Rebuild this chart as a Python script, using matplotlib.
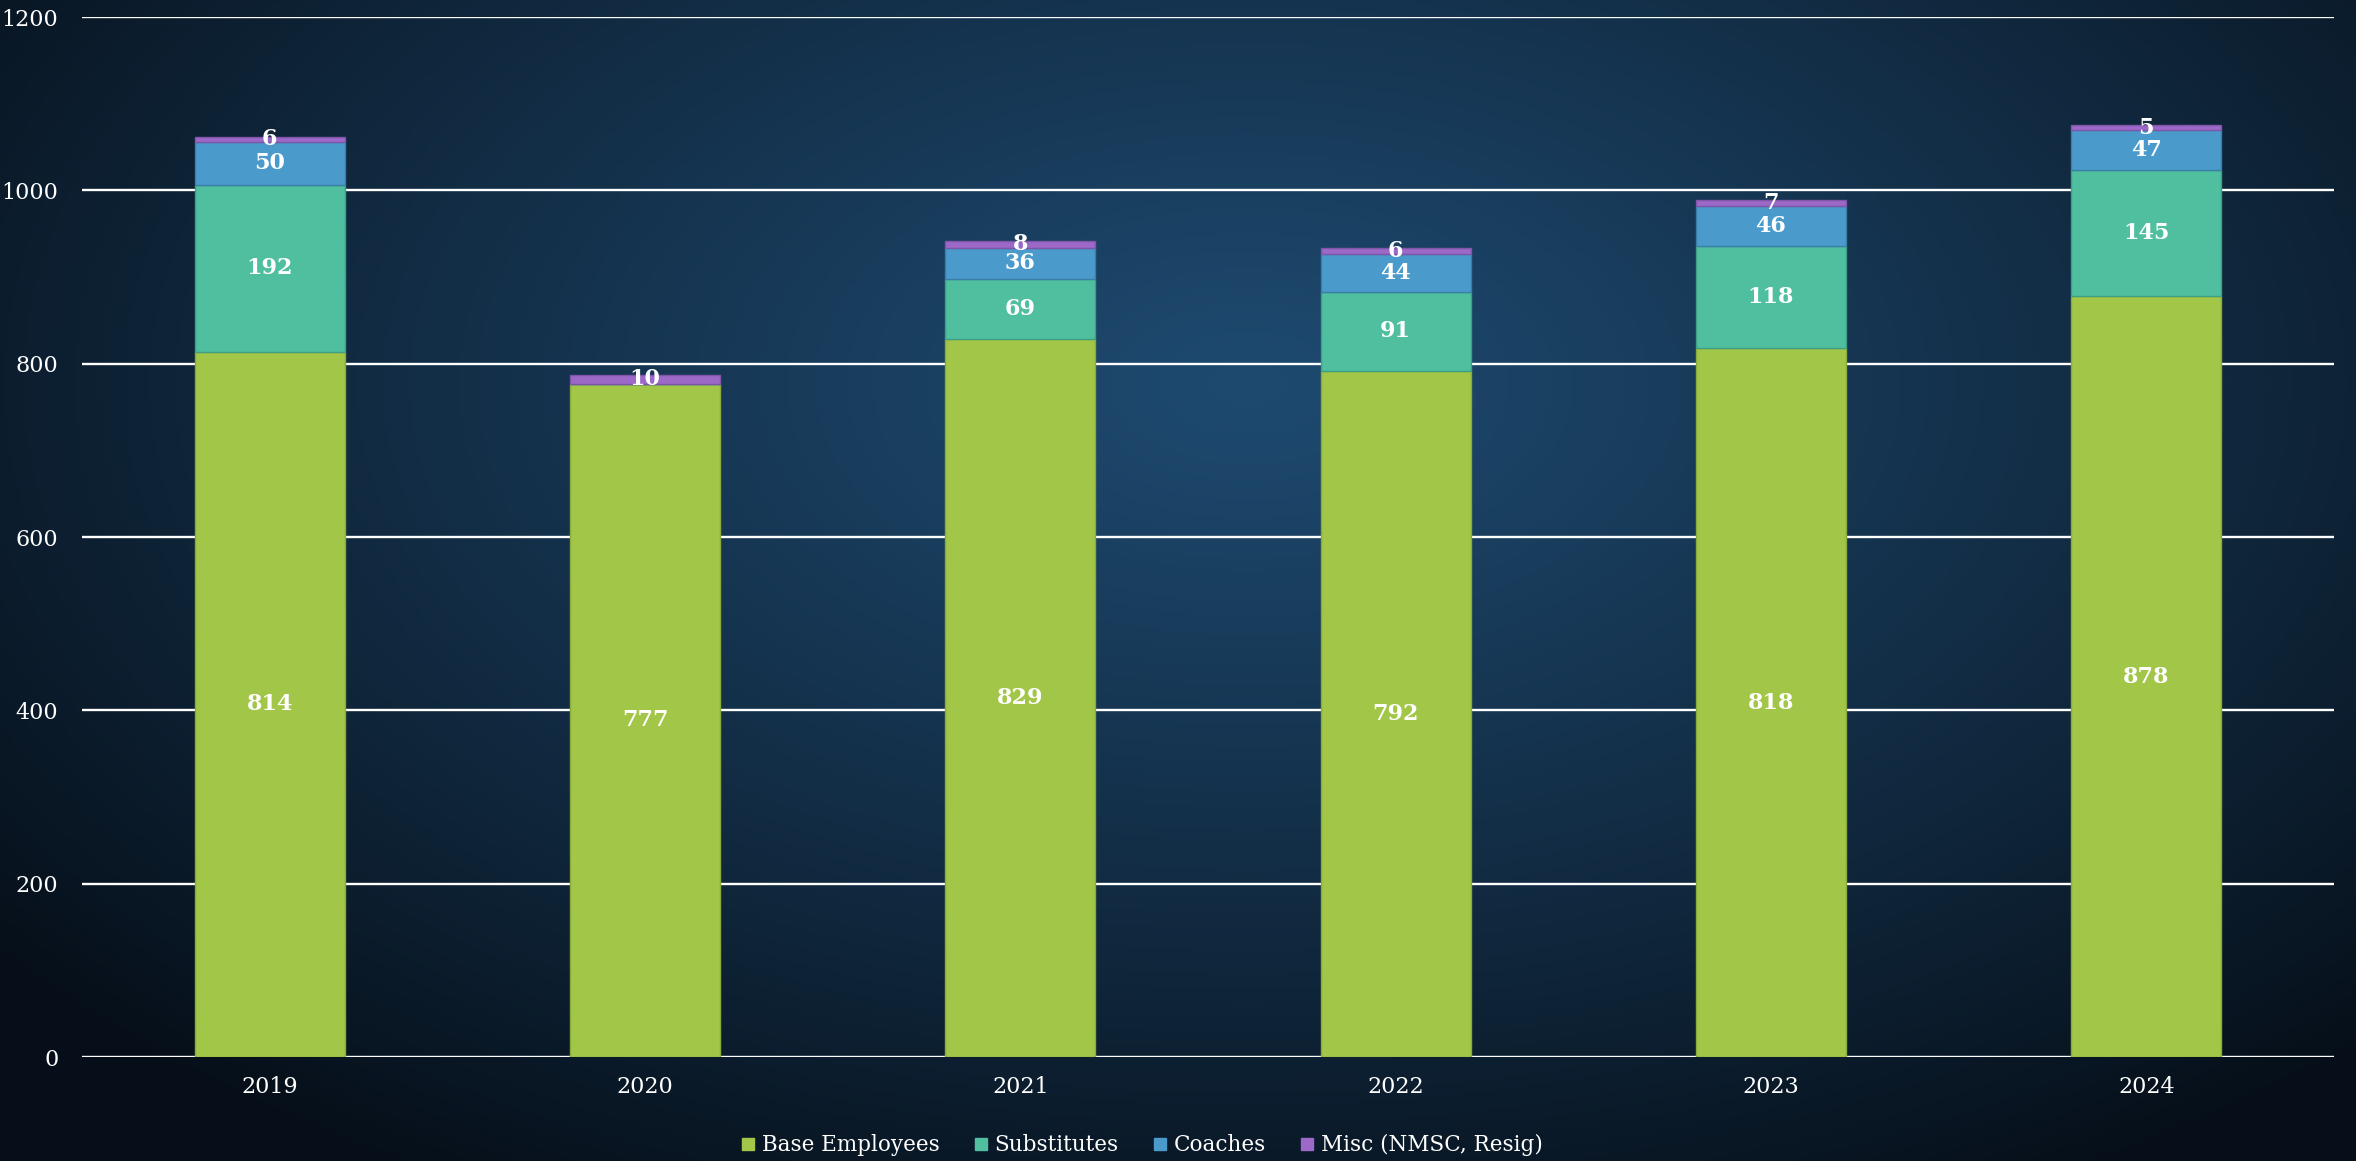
import numpy as np
import matplotlib
matplotlib.use("Agg")
import matplotlib.pyplot as plt
from matplotlib.lines import Line2D

years = ["2019", "2020", "2021", "2022", "2023", "2024"]
base = [814, 777, 829, 792, 818, 878]
subs = [192, 0, 69, 91, 118, 145]
coaches = [50, 0, 36, 44, 46, 47]
misc = [6, 10, 8, 6, 7, 5]

names = ["Base Employees", "Substitutes", "Coaches", "Misc (NMSC, Resig)"]
colors = ["#a2c647", "#4fbf9f", "#4a9bcb", "#9c69c9"]
edges = ["#8aab3a", "#3f9e86", "#3a7fa8", "#7f55a8"]

plt.rcParams["font.family"] = ["DejaVu Serif"]

fig = plt.figure(figsize=(23.56, 11.61), dpi=100)

# background: dark blue radial glow
bg = fig.add_axes([0, 0, 1, 1], zorder=-10)
gx, gy = np.meshgrid(np.linspace(0, 1, 600), np.linspace(0, 1, 300))
r = np.sqrt(((gx - 0.53) / 0.68) ** 2 + ((gy - 0.33) / 0.8) ** 2)
t = np.clip(r, 0, 1) ** 1.1
c_in = np.array([30, 74, 112]) / 255
c_out = np.array([6, 15, 25]) / 255
img = c_in[None, None, :] * (1 - t[..., None]) + c_out[None, None, :] * t[..., None]
bg.imshow(img, aspect="auto", extent=[0, 1, 0, 1], origin="upper")
bg.axis("off")

ax = fig.add_axes([82 / 2356, 1 - 1057 / 1161, (2334 - 82) / 2356, (1057 - 17) / 1161])
ax.patch.set_alpha(0)

x = np.arange(len(years))
series = [base, subs, coaches, misc]
bottom = np.zeros(len(years))
for vals, name, c, ec in zip(series, names, colors, edges):
    bars = ax.bar(x, vals, 0.4, bottom=bottom, color=c, edgecolor=ec, linewidth=1.0,
                  label=name, zorder=3)
    labels = [str(v) if v > 0 else "" for v in vals]
    ax.bar_label(bars, labels=labels, label_type="center", color="white",
                 fontsize=16, fontweight="bold", zorder=4)
    bottom += np.array(vals)

ax.set_xlim(-0.5, len(years) - 0.5)
ax.set_ylim(0, 1200)
ax.set_yticks(range(0, 1201, 200))
ax.set_xticks(x)
ax.set_xticklabels(years)
ax.grid(axis="y", color="white", linewidth=1.7, zorder=1)
ax.set_axisbelow(True)
for s in ax.spines.values():
    s.set_visible(False)
ax.tick_params(axis="y", length=0, pad=17, labelsize=16, labelcolor="white")
ax.tick_params(axis="x", length=0, pad=14, labelsize=16, labelcolor="white")

handles = [Line2D([], [], marker="s", linestyle="none", markersize=8,
                  markerfacecolor=c, markeredgecolor=c) for c in colors]
fig.legend(handles, names, loc="center", bbox_to_anchor=(1142 / 2356, 1 - 1145 / 1161),
           ncol=4, frameon=False, fontsize=15.5, labelcolor="white",
           handlelength=0.6, handletextpad=0.35, columnspacing=1.6)

fig.savefig("out.png", dpi=100)
